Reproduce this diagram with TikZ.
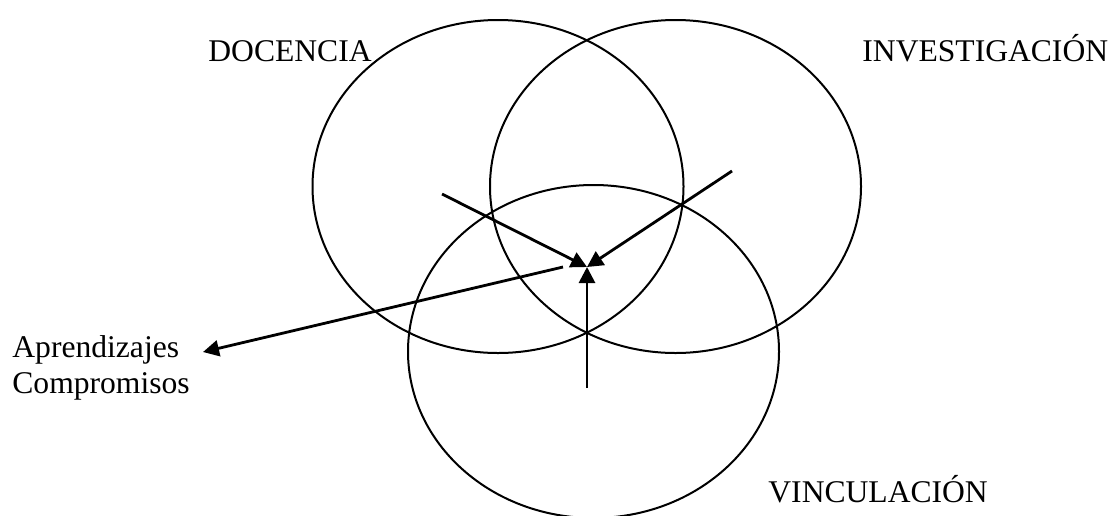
\documentclass[tikz,border=0pt]{standalone}
\usepackage{fontspec}
\setmainfont{Liberation Serif}
\usetikzlibrary{arrows.meta,positioning,calc,shapes.geometric}

\begin{document}
\begin{tikzpicture}[
    x=0.5pt, y=-0.5pt,
    eje/.style={
      ellipse,
      draw=black,
      line width=1pt,
      inner sep=0pt,
      minimum width=185.5pt,
      minimum height=166.5pt
    },
    rotulo/.style={
      inner sep=0pt,
      anchor=base west,
      font=\fontsize{15.8}{18.2}\selectfont
    },
    flecha/.style={-{Triangle[length=8pt,width=8pt]}, line width=1.4pt}
  ]
    \useasboundingbox (0,0) rectangle (1112,515);
    % las tres funciones
    \node[eje] (docencia) at (498,186.5) {};
    \node[eje] (investigacion) at (675.5,186.5) {};
    \node[eje] (vinculacion) at (593.5,351.5) {};
    % rotulos
    \node[rotulo] (tdoc) at (208,61) {DOCENCIA};
    \node[rotulo] (tinv) at (862,61) {INVESTIGACIÓN};
    \node[rotulo] (tvin) at (768,502) {VINCULACIÓN};
    \node[rotulo] (apr) at (12,357) {Aprendizajes};
    \node[rotulo] (comp) at (12,393) {Compromisos};
    % flechas hacia el centro
    \coordinate (centro) at (587,267);
    \coordinate (pdoc) at (442,194);
    \coordinate (pinv) at (732,171);
    \coordinate (pvin) at (587,388);
    \coordinate (papr) at (563,267);
    \coordinate (fapr) at (203,352);
    \draw[flecha] (pdoc) -- (centro);
    \draw[flecha] (pinv) -- (centro);
    \draw[flecha] (pvin) -- (centro);
    \draw[flecha] (papr) -- (fapr);
  \end{tikzpicture}
\end{document}
